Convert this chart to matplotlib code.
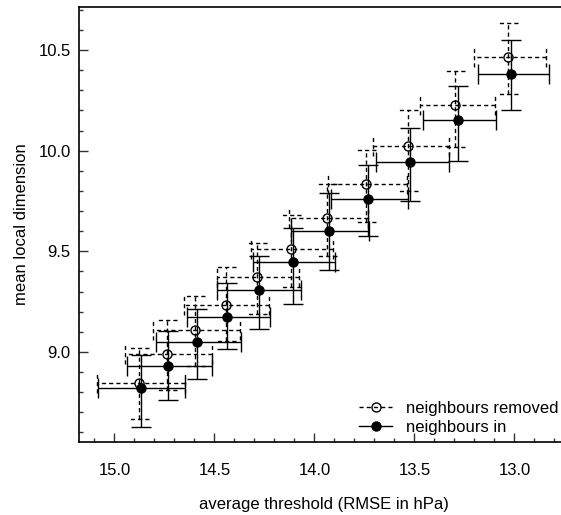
import matplotlib
matplotlib.use("Agg")
import matplotlib.pyplot as plt
from matplotlib.lines import Line2D
from matplotlib.ticker import MultipleLocator
import numpy as np

# =========================
# DATA
# =========================
# neighbours in (filled, solid bars)
x_in = [14.866, 14.730, 14.588, 14.435, 14.276, 14.108, 13.926, 13.732, 13.520, 13.281, 13.018]
y_in = [8.822, 8.932, 9.050, 9.174, 9.305, 9.446, 9.599, 9.761, 9.945, 10.151, 10.383]
xerr_in_lo = [0.220, 0.220, 0.222, 0.214, 0.209, 0.210, 0.200, 0.200, 0.195, 0.190, 0.190]
xerr_in_hi = [0.214, 0.208, 0.205, 0.203, 0.212, 0.200, 0.190, 0.185, 0.172, 0.174, 0.165]
yerr_in_lo = [0.195, 0.170, 0.185, 0.158, 0.190, 0.210, 0.190, 0.185, 0.195, 0.200, 0.180]
yerr_in_hi = [0.160, 0.170, 0.165, 0.168, 0.170, 0.170, 0.190, 0.170, 0.170, 0.170, 0.165]

# neighbours removed (open, dashed bars)
x_rm = [14.876, 14.738, 14.596, 14.443, 14.285, 14.118, 13.938, 13.741, 13.531, 13.296, 13.030]
y_rm = [8.847, 8.990, 9.109, 9.235, 9.370, 9.511, 9.665, 9.834, 10.021, 10.227, 10.464]
xerr_rm_lo = [0.230, 0.226, 0.226, 0.214, 0.210, 0.210, 0.205, 0.204, 0.202, 0.197, 0.189]
xerr_rm_hi = [0.212, 0.209, 0.209, 0.209, 0.200, 0.200, 0.190, 0.189, 0.177, 0.175, 0.170]
yerr_rm_lo = [0.180, 0.180, 0.180, 0.180, 0.180, 0.190, 0.190, 0.190, 0.220, 0.210, 0.184]
yerr_rm_hi = [0.170, 0.170, 0.170, 0.185, 0.170, 0.170, 0.170, 0.167, 0.180, 0.170, 0.168]

x_ticks = [15.0, 14.5, 14.0, 13.5, 13.0]
y_ticks = [9.0, 9.5, 10.0, 10.5]

# =========================
# STYLE
# =========================
plt.rcParams["font.family"] = ["Liberation Sans", "DejaVu Sans"]
plt.rcParams["font.size"] = 12
DASH = (0, (3, 2.2))
CAP = 0.05  # half cap length in data units (dashed caps)

W, H = 561, 515
fig = plt.figure(figsize=(W / 100, H / 100), dpi=100)
ax = fig.add_axes([79 / W, 73 / H, 490 / W, 435 / H])

# =========================
# NEIGHBOURS IN
# =========================
ax.errorbar(x_in, y_in,
            xerr=[xerr_in_lo, xerr_in_hi], yerr=[yerr_in_lo, yerr_in_hi],
            fmt="o", color="k", ms=6.5, mfc="k", mec="k",
            elinewidth=1, capsize=7.3, capthick=1, zorder=3)

# =========================
# NEIGHBOURS REMOVED
# =========================
eb = ax.errorbar(x_rm, y_rm,
                 xerr=[xerr_rm_lo, xerr_rm_hi], yerr=[yerr_rm_lo, yerr_rm_hi],
                 fmt="o", color="k", ms=6.5, mfc="none", mec="k",
                 elinewidth=1, capsize=0, zorder=4)
for lc in eb[2]:
    lc.set_linestyle(DASH)

xr = np.array(x_rm)
yr = np.array(y_rm)
# caps on horizontal bars
ax.vlines(xr - np.array(xerr_rm_lo), yr - CAP, yr + CAP, colors="k", lw=1, linestyles=DASH)
ax.vlines(xr + np.array(xerr_rm_hi), yr - CAP, yr + CAP, colors="k", lw=1, linestyles=DASH)
# caps on vertical bars
ax.hlines(yr - np.array(yerr_rm_lo), xr - CAP, xr + CAP, colors="k", lw=1, linestyles=DASH)
ax.hlines(yr + np.array(yerr_rm_hi), xr - CAP, xr + CAP, colors="k", lw=1, linestyles=DASH)

# =========================
# AXES
# =========================
ax.set_xlim(15.177, 12.727)
ax.set_ylim(8.552, 10.714)
ax.set_xticks(x_ticks)
ax.set_yticks(y_ticks)
ax.xaxis.set_minor_locator(MultipleLocator(0.1))
ax.yaxis.set_minor_locator(MultipleLocator(0.1))
ax.tick_params(which="both", direction="in", top=False, right=False, width=1, color="#333333")
ax.tick_params(which="major", length=6.5)
ax.tick_params(which="minor", length=3.2)
ax.tick_params(axis="x", which="major", pad=15)
ax.tick_params(axis="y", which="major", pad=6)
ax.spines["right"].set_visible(False)
for s in ["left", "bottom", "top"]:
    ax.spines[s].set_linewidth(1.2)

ax.set_xlabel("average threshold (RMSE in hPa)", labelpad=14)
ax.set_ylabel("mean local dimension", labelpad=7)

# =========================
# LEGEND
# =========================
handles = [
    Line2D([], [], color="k", lw=1, ls=DASH, marker="o", ms=6.5, mfc="none", mec="k"),
    Line2D([], [], color="k", lw=1, ls="-", marker="o", ms=6.5, mfc="k", mec="k"),
]
ax.legend(handles, ["neighbours removed", "neighbours in"],
          loc="lower right", bbox_to_anchor=(558 / W, 80 / H),
          bbox_transform=fig.transFigure, frameon=False,
          borderpad=0, borderaxespad=0, labelspacing=0.25,
          handlelength=2.0, handletextpad=0.8)

plt.savefig("out.png", dpi=100)
